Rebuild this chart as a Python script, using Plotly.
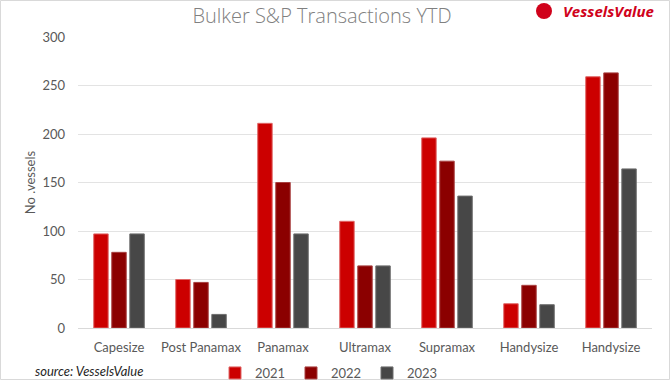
import plotly.graph_objects as go

categories = ["Capesize", "Post Panamax", "Panamax", "Ultramax", "Supramax", "Handysize", "Handysize "]
tick_labels = ["Capesize", "Post Panamax", "Panamax", "Ultramax", "Supramax", "Handysize", "Handysize"]
years = ["2021", "2022", "2023"]
v2021 = [97, 50, 211, 110, 196, 25, 259]
v2022 = [78, 47, 150, 64, 172, 44, 263]
v2023 = [97, 14, 97, 64, 136, 24, 164]
colors = ["#CC0000", "#8B0000", "#474747"]
borders = ["#E06666", "#A84040", "#6E6E6E"]

fig = go.Figure()
for name, vals, c, b in zip(years, [v2021, v2022, v2023], colors, borders):
    fig.add_trace(go.Bar(x=categories, y=vals, name=name, marker=dict(color=c, line=dict(color=b, width=1))))

W, H = 670, 380
L, R, T, B = 78, 18, 37, 52
pw, ph = W - L - R, H - T - B

def px(x):
    return (x - L) / pw

def py(y):
    return (H - B - y) / ph

font = "Lato, 'Open Sans', sans-serif"
fig.update_layout(
    width=W, height=H,
    margin=dict(l=L, r=R, t=T, b=B, autoexpand=False),
    paper_bgcolor="white", plot_bgcolor="white",
    barmode="group", bargap=0.34, bargroupgap=0.2,
    font=dict(family=font, size=13, color="#595959"),
    title=dict(text="Bulker S&P Transactions YTD", x=(322) / W, xanchor="center",
               y=1 - 16 / H, yanchor="middle",
               font=dict(family="'Open Sans', sans-serif", size=20, color="#808080", weight=300)),
    xaxis=dict(tickmode="array", tickvals=categories, ticktext=tick_labels,
               showgrid=False, showline=False, ticks="", ticklabelstandoff=10,
               tickfont=dict(size=13, color="#595959")),
    yaxis=dict(range=[0, 300], dtick=50, gridcolor="#E3E3E3", gridwidth=1,
               zeroline=True, zerolinecolor="#D9D9D9", zerolinewidth=1,
               ticks="", ticklabelstandoff=12, tickfont=dict(size=13, color="#595959"),
               title=dict(text="No .vessels", font=dict(size=13, color="#595959"), standoff=3)),
    legend=dict(orientation="h", x=px(215), xanchor="left", y=py(358), yanchor="top",
                font=dict(size=13, color="#595959"), itemwidth=30, entrywidth=31,
                entrywidthmode="pixels", tracegroupgap=0,
                bgcolor="rgba(0,0,0,0)"),
    showlegend=True,
)

fig.add_annotation(text="<i>source: VesselsValue</i>", xref="paper", yref="paper",
                   x=px(33), xanchor="left", y=py(371), yanchor="middle", showarrow=False,
                   font=dict(size=13, color="#262626"))
fig.add_annotation(text="<b><i>VesselsValue</i></b>", xref="paper", yref="paper",
                   x=px(656), xanchor="right", y=py(11), yanchor="middle", showarrow=False,
                   font=dict(size=15, color="#D0021B", family="'Open Sans', sans-serif"))
fig.add_shape(type="circle", xref="paper", yref="paper",
              x0=px(536), x1=px(552), y0=py(19), y1=py(3),
              fillcolor="#D0021B", line=dict(width=0))
fig.add_shape(type="rect", xref="paper", yref="paper",
              x0=px(0.5), x1=px(669.5), y0=py(0.5), y1=py(379.5),
              line=dict(color="#D9D9D9", width=1), fillcolor="rgba(0,0,0,0)", layer="below")

fig.write_html("out.html", config={"displayModeBar": False},
               post_script="document.body.style.margin='0';document.body.style.overflow='hidden';")
